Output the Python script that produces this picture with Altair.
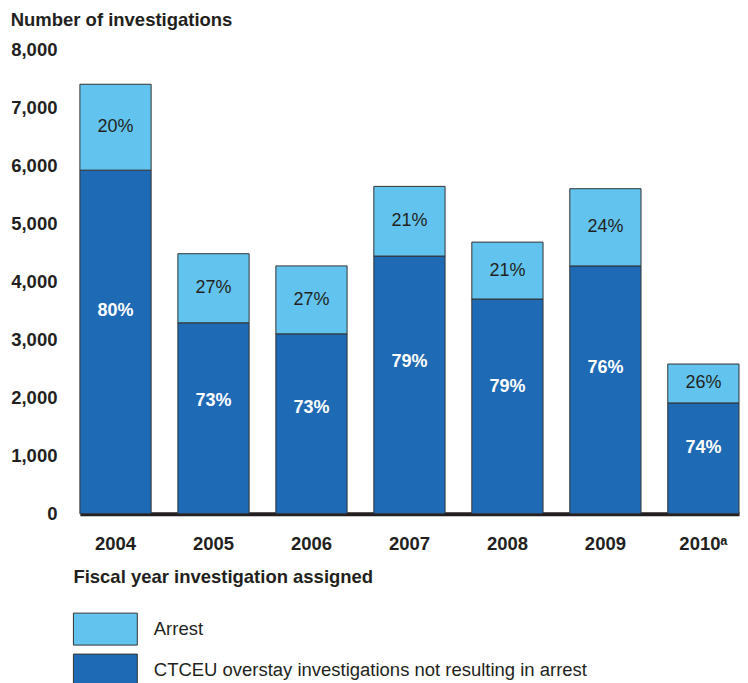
import altair as alt
import pandas as pd

years = ["2004", "2005", "2006", "2007", "2008", "2009", "2010ᵃ"]
arrest = [1480, 1190, 1170, 1200, 980, 1330, 670]
not_arrest = [5920, 3290, 3100, 4440, 3700, 4270, 1910]
arrest_pct = ["20%", "27%", "27%", "21%", "21%", "24%", "26%"]
not_arrest_pct = ["80%", "73%", "73%", "79%", "79%", "76%", "74%"]

cat_arrest = "Arrest"
cat_not = "CTCEU overstay investigations not resulting in arrest"
light = "#62C4EE"
dark = "#1F6AB4"
ink = "#231f20"

rows = []
for y, a, n, ap, np_ in zip(years, arrest, not_arrest, arrest_pct, not_arrest_pct):
    rows.append({"year": y, "category": cat_not, "value": n, "ord": 0,
                 "pct": np_, "label_y": n * 0.59})
    rows.append({"year": y, "category": cat_arrest, "value": a, "ord": 1,
                 "pct": ap, "label_y": n + a / 2})
df = pd.DataFrame(rows)

base = alt.Chart(df)

x_enc = alt.X("year:N", sort=years,
              scale=alt.Scale(paddingInner=0.273, paddingOuter=0),
              axis=alt.Axis(title="Fiscal year investigation assigned",
                            labelAngle=0, ticks=False, domainWidth=4,
                            domainColor=ink, labelFontSize=18.5,
                            labelFontWeight="bold", labelColor=ink,
                            labelPadding=21, titleFontSize=18.5,
                            titleFontWeight="bold", titleColor=ink,
                            titleAlign="left", titleX=-7, titleY=63,
                            titleBaseline="middle"))

bars = base.mark_bar(stroke="#333333", strokeWidth=1).encode(
    x=x_enc,
    y=alt.Y("value:Q", stack="zero", scale=alt.Scale(domain=[0, 8000]),
            axis=alt.Axis(title=None, ticks=False, domain=False, grid=False,
                          values=[0, 1000, 2000, 3000, 4000, 5000, 6000, 7000, 8000],
                          format=",.0f", labelFontSize=18.5, labelFontWeight="bold",
                          labelColor=ink, labelPadding=23)),
    color=alt.Color("category:N",
                    scale=alt.Scale(domain=[cat_arrest, cat_not], range=[light, dark]),
                    legend=alt.Legend(title=None, orient="none", legendX=9,
                                      legendY=564, direction="vertical",
                                      symbolType="M-2,-1H2V1H-2Z",
                                      symbolSize=1024, symbolStrokeColor="#333333",
                                      symbolStrokeWidth=1, symbolOpacity=1,
                                      labelFontSize=18.5, labelColor=ink,
                                      labelOffset=32, rowPadding=4,
                                      labelLimit=700, padding=0)),
    order=alt.Order("ord:Q"),
)

top_text = base.transform_filter(alt.datum.category == cat_arrest).mark_text(
    fontSize=18, color=ink, baseline="middle").encode(
    x=alt.X("year:N", sort=years), y=alt.Y("label_y:Q"), text="pct:N")

bot_text = base.transform_filter(alt.datum.category == cat_not).mark_text(
    fontSize=18, color="white", fontWeight="bold", baseline="middle").encode(
    x=alt.X("year:N", sort=years), y=alt.Y("label_y:Q"), text="pct:N")

chart = alt.layer(bars, top_text, bot_text).properties(
    width=660, height=465,
    padding={"left": 2, "top": 2, "right": 0, "bottom": 0},
    title=alt.TitleParams("Number of investigations", anchor="start",
                          frame="bounds", fontSize=18.5, fontWeight="bold",
                          color=ink, offset=11),
).configure(font="Liberation Sans").configure_view(stroke=None)

chart.save("out.html", embed_options={"renderer": "svg", "actions": False})
